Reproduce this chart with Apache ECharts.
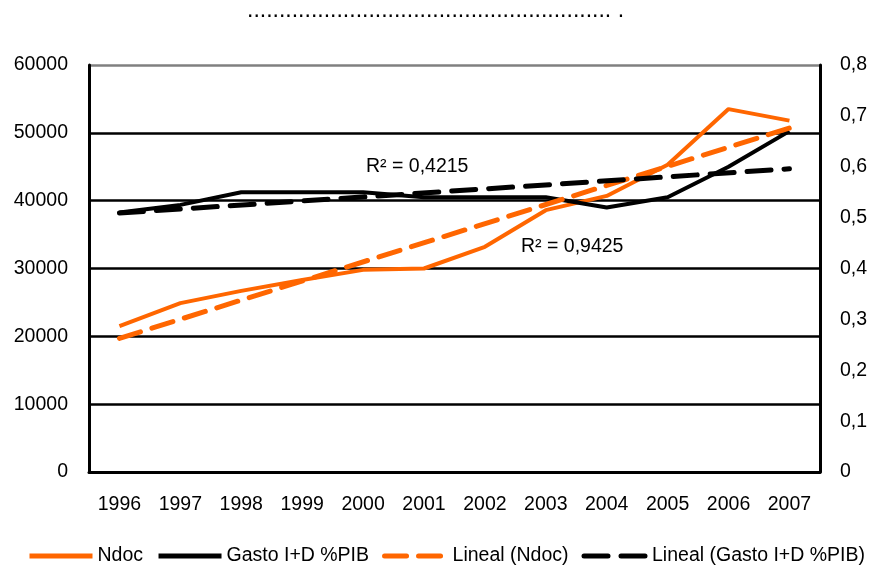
<!DOCTYPE html>
<html lang='en'>
<head>
  <meta charset='UTF-8'>
  <title>Ndoc y Gasto I+D</title>
  <script src="https://cdn.jsdelivr.net/npm/echarts@6/dist/echarts.min.js"></script>
  <style>
    html, body { margin: 0; padding: 0; background: #fff; }
  </style>
</head>
<body>
<div id="main" style="width: 870px; height:565px;"></div>
<script>
  const years = ['1996','1997','1998','1999','2000','2001','2002','2003','2004','2005','2006','2007']
  const ndoc = [21500, 24900, 26700, 28300, 29800, 30000, 33200, 38600, 40700, 45300, 53500, 51800]
  const gasto = [0.51, 0.525, 0.55, 0.55, 0.55, 0.54, 0.54, 0.54, 0.52, 0.54, 0.60, 0.67]
  // trend lines: only the two end points
  const lineaNdoc = [['1996', 19700], ['2007', 50700]]
  const lineaGasto = [['1996', 0.509], ['2007', 0.596]]
  const r2Labels = ['R² = 0,4215', 'R² = 0,9425']

  const orange = '#FF6600'
  const font = 'Liberation Sans, Arial, sans-serif'

  var myChart = echarts.init(document.getElementById('main'));
  var option = {
    animation: false,
    backgroundColor: '#fff',
    textStyle: { fontFamily: font },
    title: {
      text: '......................................................... .',
      left: 242,
      top: -6,
      textStyle: { fontSize: 23, fontWeight: 'normal', color: '#000', fontFamily: font }
    },
    grid: { left: 89, right: 50, top: 65, bottom: 93 },
    legend: {
      left: 22,
      top: 541,
      itemWidth: 63,
      itemHeight: 14,
      itemGap: 13,
      itemStyle: { opacity: 0 },
      lineStyle: { width: 5 },
      textStyle: { fontSize: 19.5, color: '#000', fontFamily: font },
      data: ['Ndoc', 'Gasto I+D %PIB', 'Lineal (Ndoc)', 'Lineal (Gasto I+D %PIB)']
    },
    xAxis: {
      type: 'category',
      data: years,
      axisLine: { lineStyle: { color: '#000', width: 3 } },
      axisTick: { show: false },
      axisLabel: { color: '#000', fontSize: 19.5, margin: 23 }
    },
    yAxis: [
      {
        type: 'value',
        min: 0, max: 60000, interval: 10000,
        axisLine: { show: true, lineStyle: { color: '#000', width: 3 } },
        axisTick: { show: false },
        axisLabel: { color: '#000', fontSize: 19.5, margin: 21, formatter: v => String(v) },
        splitLine: { lineStyle: { color: ['#000', '#000', '#000', '#000', '#000', '#000', '#808080'], width: 2.5 } }
      },
      {
        type: 'value',
        min: 0, max: 0.8, interval: 0.1,
        axisLine: { show: true, lineStyle: { color: '#000', width: 3 } },
        axisTick: { show: false },
        splitLine: { show: false },
        axisLabel: {
          color: '#000', fontSize: 19.5, margin: 20,
          formatter: v => v === 0 ? '0' : v.toFixed(1).replace('.', ',')
        }
      }
    ],
    graphic: [
      { type: 'text', left: 366, top: 157, style: { text: r2Labels[0], fontSize: 19.5, fill: '#000', fontFamily: font } },
      { type: 'text', left: 521, top: 237, style: { text: r2Labels[1], fontSize: 19.5, fill: '#000', fontFamily: font } }
    ],
    series: [
      {
        name: 'Ndoc', type: 'line', data: ndoc, symbol: 'none',
        color: orange,
        lineStyle: { color: orange, width: 4 },
        z: 3
      },
      {
        name: 'Gasto I+D %PIB', type: 'line', data: gasto, yAxisIndex: 1, symbol: 'none',
        color: '#000',
        lineStyle: { color: '#000', width: 4 },
        z: 3
      },
      {
        name: 'Lineal (Ndoc)', type: 'line', data: lineaNdoc, symbol: 'none',
        color: orange,
        lineStyle: { color: orange, width: 5, type: [22, 12], cap: 'round' },
        z: 4
      },
      {
        name: 'Lineal (Gasto I+D %PIB)', type: 'line', data: lineaGasto, yAxisIndex: 1, symbol: 'none',
        color: '#000',
        lineStyle: { color: '#000', width: 5, type: [24, 13], cap: 'round' },
        z: 4
      }
    ]
  };
  myChart.setOption(option);
</script>
</body>
</html>
